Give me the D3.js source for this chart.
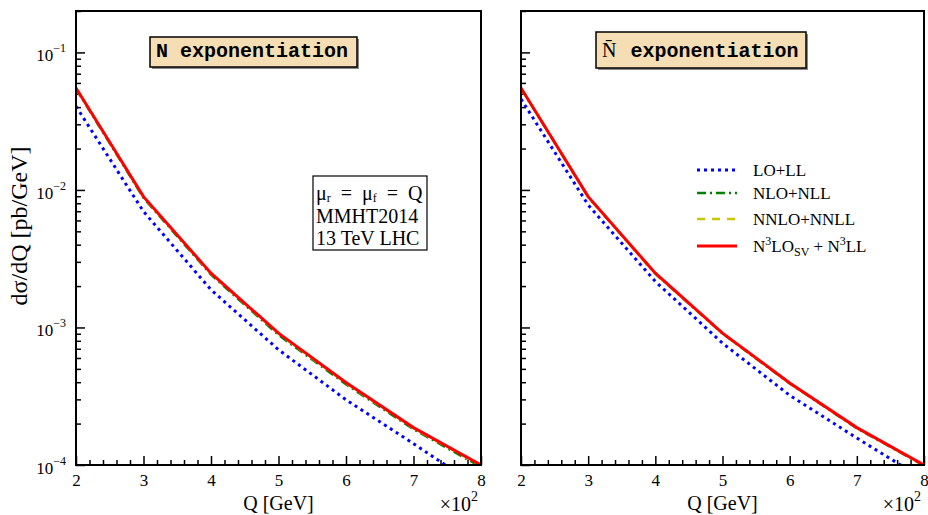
<!DOCTYPE html>
<html lang="en">
<head>
    <meta charset="UTF-8">
    <title>dsigma/dQ</title>
    <script src="https://cdn.jsdelivr.net/npm/d3@7"></script>
    <style>
        body { margin: 0; background: #fff; }
        text { font-family: "Liberation Serif", "Times New Roman", serif; fill: #000; }
    </style>
</head>
<body>
<svg id="chart"></svg>
<script>
    // Q in GeV
    var qVals = [200, 300, 400, 500, 600, 700, 800]
    var xTickVals = [200, 300, 400, 500, 600, 700, 800]
    var yTickVals = [1e-1, 1e-2, 1e-3, 1e-4]
    var yTickPow = ["\u22121", "\u22122", "\u22123", "\u22124"]

    // left: N exponentiation
    var leftLO   = [0.0405, 0.00697, 0.00188, 0.000689, 0.000298, 0.000143, 0.000067]
    var leftNLO  = [0.0545, 0.00876, 0.00242, 0.000882, 0.000386, 0.000182, 0.0000968]
    var leftNNLO = [0.0550, 0.00888, 0.00246, 0.000903, 0.000394, 0.000185, 0.0000990]
    var leftN3LO = [0.0551, 0.00894, 0.00248, 0.000910, 0.000398, 0.000187, 0.000100]

    // right: N-bar exponentiation
    var rightLO   = [0.0458, 0.00778, 0.00216, 0.000769, 0.000321, 0.000157, 0.0000785]
    var rightNLO  = [0.0549, 0.00890, 0.00246, 0.000903, 0.000392, 0.000185, 0.0000990]
    var rightNNLO = [0.0551, 0.00893, 0.00247, 0.000908, 0.000394, 0.000186, 0.0000998]
    var rightN3LO = [0.0551, 0.00894, 0.00248, 0.000910, 0.000395, 0.000187, 0.000100]

    var seriesNames = ["LO+LL", "NLO+NLL", "NNLO+NNLL", "N3LO"]
    var seriesColors = ["#0000ff", "#008000", "#c8c800", "#ff0000"]
    var seriesDash = ["3,4", "9,4,2,4", "8,7", null]
    var seriesWidth = [3, 2.5, 2.5, 3]

    var W = 928, H = 515
    var svg = d3.select("#chart").attr("width", W).attr("height", H)

    var yTop = 11, yBot = 465
    var y = d3.scaleLog().domain([1e-4, 0.2]).range([yBot, yTop])

    function panel(x0, x1, data, showYLabels, id) {
        var x = d3.scaleLinear().domain([200, 800]).range([x0, x1])
        var g = svg.append("g")

        g.append("clipPath").attr("id", id)
            .append("rect").attr("x", x0).attr("y", yTop).attr("width", x1 - x0).attr("height", yBot - yTop)

        // x ticks
        var minorX = d3.range(200, 801, 20).filter(d => d % 100 != 0)
        g.append("g").attr("transform", "translate(0," + yBot + ")")
            .call(d3.axisBottom(x).tickValues(minorX).tickSize(-5).tickFormat(""))
            .call(a => a.select(".domain").remove())
        g.append("g").attr("transform", "translate(0," + yBot + ")")
            .call(d3.axisBottom(x).tickValues(xTickVals).tickSize(-9).tickPadding(9).tickFormat(d => d / 100))
            .call(a => a.select(".domain").remove())
            .selectAll("text").style("font-size", "17px").style("font-family", "Liberation Serif")

        // y ticks
        var minorY = y.ticks().filter(d => yTickVals.indexOf(d) < 0)
        g.append("g").attr("transform", "translate(" + x0 + ",0)")
            .call(d3.axisLeft(y).tickValues(minorY).tickSize(-5).tickFormat(""))
            .call(a => a.select(".domain").remove())
        g.append("g").attr("transform", "translate(" + x0 + ",0)")
            .call(d3.axisLeft(y).tickValues(yTickVals).tickSize(-9).tickFormat(""))
            .call(a => a.select(".domain").remove())
        g.selectAll(".tick line").attr("stroke", "#000").attr("stroke-width", 1.5)

        if (showYLabels) {
            var lab = g.selectAll(".ylab").data(yTickVals).join("text")
                .attr("class", "ylab")
                .attr("x", x0 - 10)
                .attr("y", d => y(d) + 9)
                .attr("text-anchor", "end")
                .style("font-size", "17px")
            lab.append("tspan").text("10")
            lab.append("tspan").attr("dy", -9).style("font-size", "12px").text((d, i) => yTickPow[i])
        }

        // curves
        var line = d3.line().x((d, i) => x(qVals[i])).y(d => y(d))
        var lines = g.append("g").attr("clip-path", "url(#" + id + ")")
        data.forEach(function (vals, k) {
            lines.append("path")
                .attr("d", line(vals))
                .attr("fill", "none")
                .attr("stroke", seriesColors[k])
                .attr("stroke-width", seriesWidth[k])
                .attr("stroke-dasharray", seriesDash[k])
        })

        // frame
        g.append("rect").attr("x", x0).attr("y", yTop).attr("width", x1 - x0).attr("height", yBot - yTop)
            .attr("fill", "none").attr("stroke", "#000").attr("stroke-width", 2)

        // x label
        g.append("text").attr("x", (x0 + x1) / 2).attr("y", 510).attr("text-anchor", "middle")
            .style("font-size", "20px").text("Q [GeV]")
        var mult = g.append("text").attr("x", x1 - 3).attr("y", 511).attr("text-anchor", "end")
            .style("font-size", "20px")
        mult.append("tspan").text("\u00d710")
        mult.append("tspan").attr("dy", -10).style("font-size", "14px").text("2")
        return x
    }

    panel(76, 481, [leftLO, leftNLO, leftNNLO, leftN3LO], true, "clipL")
    panel(521, 924, [rightLO, rightNLO, rightNNLO, rightN3LO], false, "clipR")

    // y axis title
    svg.append("text")
        .attr("transform", "translate(27,226) rotate(-90)")
        .attr("text-anchor", "middle")
        .style("font-size", "24px")
        .text("d\u03c3/dQ [pb/GeV]")

    // title boxes
    function titleBox(bx, by, bw, bh) {
        svg.append("rect").attr("x", bx + 2).attr("y", by + 2).attr("width", bw).attr("height", bh).attr("fill", "#888")
        svg.append("rect").attr("x", bx).attr("y", by).attr("width", bw).attr("height", bh)
            .attr("fill", "#f5deb3").attr("stroke", "#000").attr("stroke-width", 1.5)
    }
    titleBox(150, 37, 207, 30)
    svg.append("text").attr("x", 156).attr("y", 57)
        .style("font-family", "Liberation Mono").style("font-weight", "bold").style("font-size", "20px")
        .text("N exponentiation")

    titleBox(596, 32, 210, 36)
    var t2 = svg.append("text").attr("x", 602).attr("y", 57).style("font-size", "20px")
    t2.append("tspan").text("N\u0304")
    t2.append("tspan").attr("dx", 14)
        .style("font-family", "Liberation Mono").style("font-weight", "bold")
        .text("exponentiation")

    // info box
    svg.append("rect").attr("x", 313).attr("y", 176).attr("width", 114).attr("height", 74)
        .attr("fill", "#fff").attr("stroke", "#000").attr("stroke-width", 1.2)
    var info = svg.append("text").style("font-size", "20px").style("white-space", "pre")
    var l1 = info.append("tspan").attr("x", 316).attr("y", 200)
    l1.append("tspan").text("\u03bc")
    l1.append("tspan").attr("dy", 2).style("font-size", "12px").text("r")
    l1.append("tspan").attr("dy", -2).text("  =  \u03bc")
    l1.append("tspan").attr("dy", 2).style("font-size", "12px").text("f")
    l1.append("tspan").attr("dy", -2).text("  =  Q")
    info.append("tspan").attr("x", 316).attr("y", 223).text("MMHT2014")
    info.append("tspan").attr("x", 316).attr("y", 245).text("13 TeV LHC")

    // legend
    var legY = [170, 193, 219, 246]
    var leg = svg.append("g")
    seriesNames.forEach(function (name, k) {
        leg.append("line").attr("x1", 697).attr("x2", 737).attr("y1", legY[k]).attr("y2", legY[k])
            .attr("stroke", seriesColors[k]).attr("stroke-width", seriesWidth[k])
            .attr("stroke-dasharray", seriesDash[k])
        var t = leg.append("text").attr("x", 753).attr("y", legY[k] + 6).style("font-size", "17px")
        if (k < 3) {
            t.text(name)
        } else {
            t.append("tspan").text("N")
            t.append("tspan").attr("dy", -7).style("font-size", "12px").text("3")
            t.append("tspan").attr("dy", 7).text("LO")
            t.append("tspan").attr("dy", 4).style("font-size", "12px").text("SV")
            t.append("tspan").attr("dy", -4).text(" + N")
            t.append("tspan").attr("dy", -7).style("font-size", "12px").text("3")
            t.append("tspan").attr("dy", 7).text("LL")
        }
    })
</script>
</body>
</html>
